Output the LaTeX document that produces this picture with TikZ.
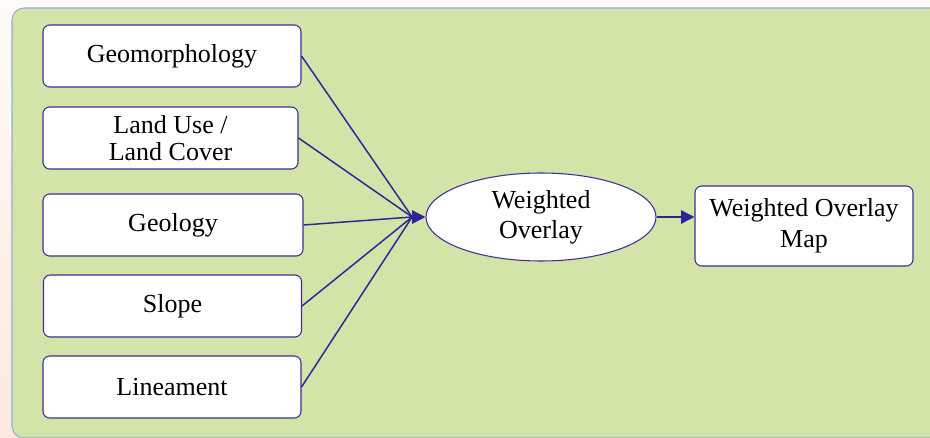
\documentclass[tikz,border=0pt]{standalone}
\usepackage{fontspec}
\setmainfont{Liberation Serif}
\usetikzlibrary{positioning}
\usetikzlibrary{shapes.geometric}
\usetikzlibrary{arrows.meta}

\definecolor{panelgreen}{RGB}{211,228,169}
\definecolor{panelrim}{RGB}{150,172,212}
\definecolor{boxblue}{RGB}{58,48,150}
\definecolor{linkblue}{RGB}{46,36,150}
\definecolor{paperlight}{RGB}{254,250,247}
\definecolor{paperpink}{RGB}{252,232,222}

\begin{document}
\begin{tikzpicture}[x=0.75pt, y=-0.75pt]
    \tikzstyle{box}=[draw=boxblue, fill=white, rounded corners=5pt, line width=0.8pt, minimum width=193.5pt, minimum height=46.5pt, align=center, font=\fontsize{19.5}{23}\selectfont]
    \tikzstyle{link}=[draw=linkblue, line width=1.1pt]
    \tikzstyle{tip}=[link, -{Triangle[length=10pt, width=10pt]}]

    \useasboundingbox (0,0) rectangle (930,438);
    \clip (0,0) rectangle (930,438);
    \shade[top color=paperlight, bottom color=paperpink] (0,0) rectangle (930,438);
    \draw[panelrim, fill=panelgreen, line width=0.8pt, rounded corners=9pt] (12,8) rectangle (960,438);

    \node[box] (geomorph) at (172,56) {Geomorphology};
    \node[box, minimum width=191.25pt] (landuse) at (170.5,138) {Land Use /\\[-3pt]Land Cover};
    \node[box, minimum width=195pt] (geology) at (173,225) {Geology};
    \node[box] (slope) at (172.5,306) {Slope};
    \node[box] (lineament) at (172,387) {Lineament};

    \node[ellipse, draw=boxblue, fill=white, line width=0.8pt, minimum width=172.5pt, minimum height=66pt, inner sep=0pt, align=center, font=\fontsize{19.5}{22.5}\selectfont] (overlay) at (541,217) {Weighted\\Overlay};
    \node[box, minimum width=163.5pt, minimum height=60pt] (map) at (804,226) {Weighted Overlay\\Map};

    \coordinate (merge) at ([xshift=-10pt]overlay.west);
    \foreach \src in {geomorph, landuse, geology, slope, lineament}
        \draw[link] (\src.east) -- (merge);
    \draw[tip] (merge) -- (overlay.west);
    \draw[tip] (overlay.east) -- (overlay.east -| map.west);
\end{tikzpicture}
\end{document}
